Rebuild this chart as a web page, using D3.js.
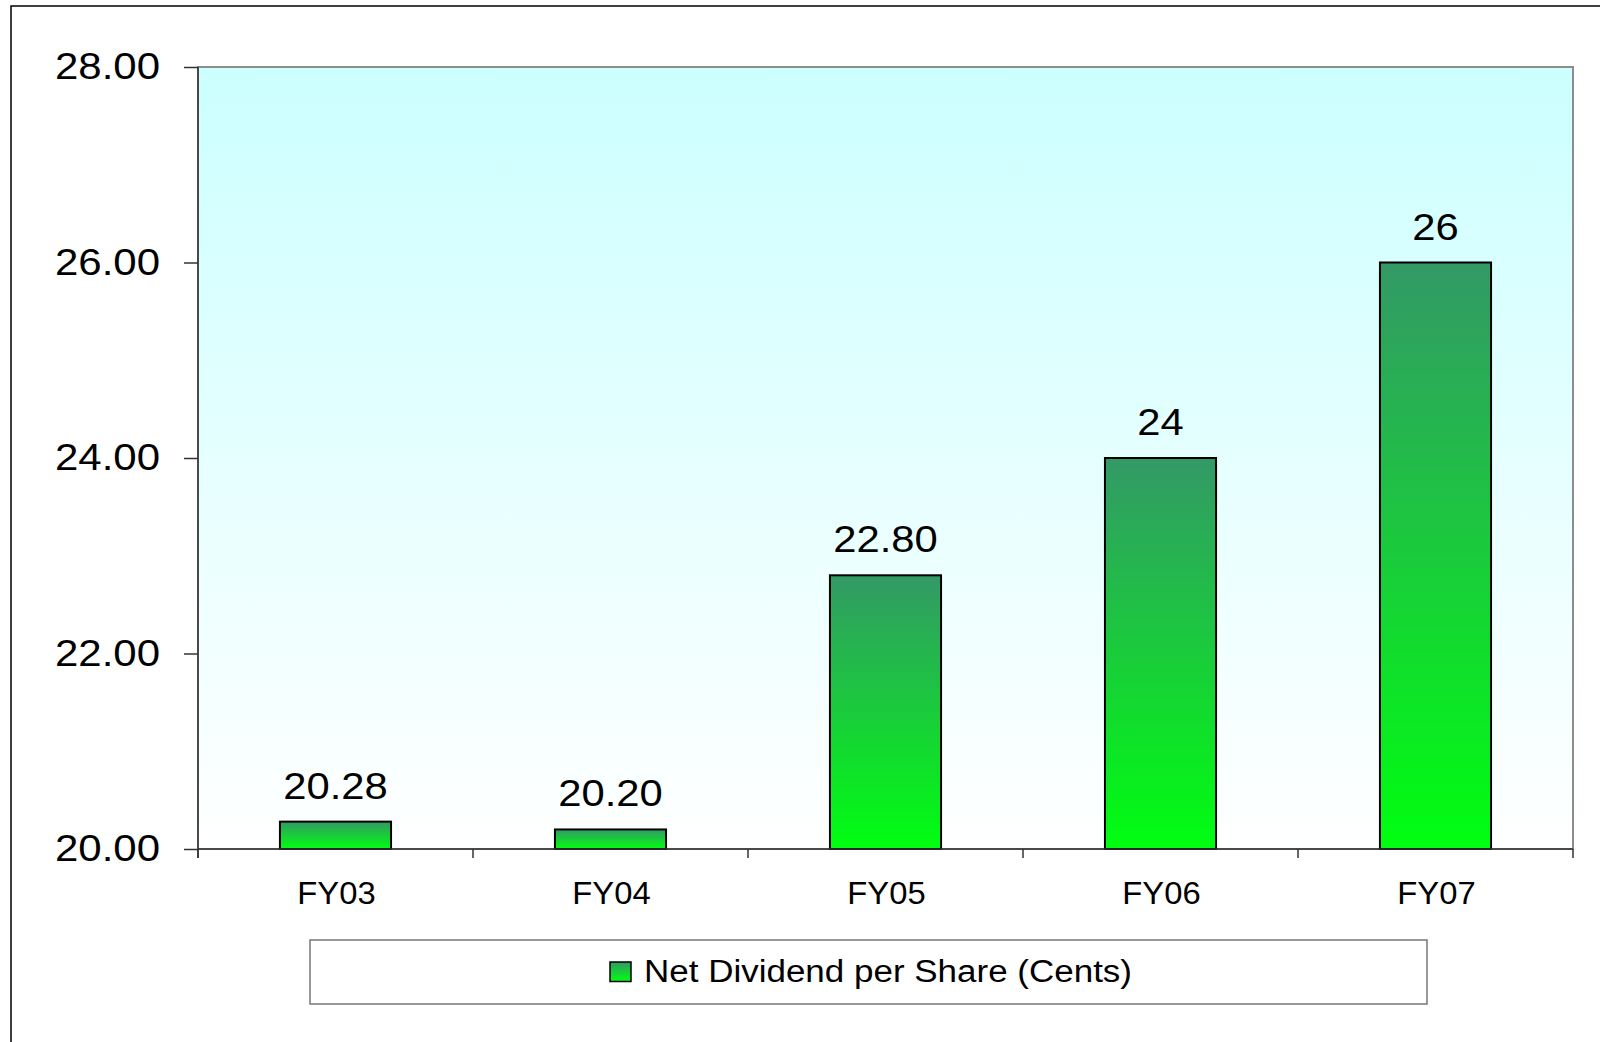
<!DOCTYPE html>
<html><head><meta charset="utf-8">
<script src="https://cdn.jsdelivr.net/npm/d3@7"></script>
<style>html,body{margin:0;padding:0;background:#fff;}svg{display:block;}text{font-family:"Liberation Sans",Arial,sans-serif;fill:#000;}</style>
</head><body>
<script>
const categories = ["FY03","FY04","FY05","FY06","FY07"];
const values = [20.28, 20.20, 22.80, 24, 26];
const valueLabels = ["20.28","20.20","22.80","24","26"];
const yTicks = [20, 22, 24, 26, 28];
const yTickLabels = ["20.00","22.00","24.00","26.00","28.00"];
const seriesName = "Net Dividend per Share (Cents)";

const W = 1600, H = 1042;
const m = {left:198, top:67, right:1573, bottom:849};
const svg = d3.select("body").append("svg").attr("width", W).attr("height", H);
const defs = svg.append("defs");
const bg = defs.append("linearGradient").attr("id","bg").attr("x1",0).attr("y1",0).attr("x2",0).attr("y2",1);
bg.append("stop").attr("offset","0").attr("stop-color","#ccffff");
bg.append("stop").attr("offset","1").attr("stop-color","#ffffff");
const bar = defs.append("linearGradient").attr("id","bar").attr("x1",0).attr("y1",0).attr("x2",0).attr("y2",1);
bar.append("stop").attr("offset","0").attr("stop-color","#339966");
bar.append("stop").attr("offset","1").attr("stop-color","#00ff10");

// outer frame
svg.append("rect").attr("x",11).attr("y",6).attr("width",1620).attr("height",1060)
  .attr("fill","none").attr("stroke","#000").attr("stroke-width",1.5);

const x = d3.scaleBand().domain(categories).range([m.left, m.right]).paddingInner(0).paddingOuter(0);
const y = d3.scaleLinear().domain([20, 28]).range([m.bottom, m.top]);

// plot area
svg.append("rect").attr("x",m.left).attr("y",m.top).attr("width",m.right-m.left).attr("height",m.bottom-m.top)
  .attr("fill","url(#bg)").attr("stroke","#8c8c8c").attr("stroke-width",2);

// bars
const bw = x.bandwidth()*0.404;
svg.selectAll("rect.bar").data(values).enter().append("rect").attr("class","bar")
  .attr("x",(d,i)=>x(categories[i]) + x.bandwidth()/2 - bw/2)
  .attr("y",d=>y(d)).attr("width",bw).attr("height",d=>y(20)-y(d))
  .attr("fill","url(#bar)").attr("stroke","#000").attr("stroke-width",2);

// value labels (horizontally stretched like the original)
const vsx = 1.16;
svg.selectAll("text.val").data(values).enter().append("text").attr("class","val")
  .attr("transform",(d,i)=>`translate(${x(categories[i]) + x.bandwidth()/2},${y(d)-23}) scale(${vsx},1)`)
  .attr("text-anchor","middle").attr("font-size",36)
  .text((d,i)=>valueLabels[i]);

// y axis
const ysx = 1.15;
const yAxis = d3.axisLeft(y).tickValues(yTicks).tickSize(14).tickPadding(24)
  .tickFormat((d,i)=>yTickLabels[i]);
const ya = svg.append("g").attr("transform",`translate(${m.left},0)`).call(yAxis);
ya.select(".domain").remove();
ya.selectAll(".tick line").attr("stroke","#333").attr("stroke-width",1.5);
ya.selectAll(".tick text").attr("font-size",36.5)
  .attr("font-family","Liberation Sans, Arial, sans-serif").attr("fill","#000")
  .attr("x",-38/ysx).attr("transform",`scale(${ysx},1)`);
svg.append("line").attr("x1",m.left).attr("x2",m.left).attr("y1",m.top).attr("y2",m.bottom+9)
  .attr("stroke","#333").attr("stroke-width",1.5);

// x axis
const xb = d3.scaleLinear().domain([0,5]).range([m.left, m.right]);
const xa = svg.append("g").attr("transform",`translate(0,${m.bottom})`);
xa.append("line").attr("x1",m.left).attr("x2",m.right).attr("stroke","#333").attr("stroke-width",1.5);
xa.selectAll("line.tk").data(d3.range(6)).enter().append("line").attr("class","tk")
  .attr("x1",d=>xb(d)).attr("x2",d=>xb(d)).attr("y1",0).attr("y2",9)
  .attr("stroke","#333").attr("stroke-width",1.5);
xa.selectAll("text").data(categories).enter().append("text")
  .attr("transform",d=>`translate(${x(d)+x.bandwidth()/2+1},55) scale(1.04,1)`)
  .attr("text-anchor","middle").attr("font-size",31.5).text(d=>d);

// legend
const lg = svg.append("g");
lg.append("rect").attr("x",310).attr("y",940).attr("width",1117).attr("height",64)
  .attr("fill","#fff").attr("stroke","#777").attr("stroke-width",1.5);
lg.append("rect").attr("x",610).attr("y",962).attr("width",21).attr("height",19.5)
  .attr("fill","url(#bar)").attr("stroke","#000").attr("stroke-width",1.5);
lg.append("text").attr("x",644).attr("y",982).attr("font-size",31)
  .attr("textLength",488).attr("lengthAdjust","spacingAndGlyphs").text(seriesName);
</script>
</body></html>
